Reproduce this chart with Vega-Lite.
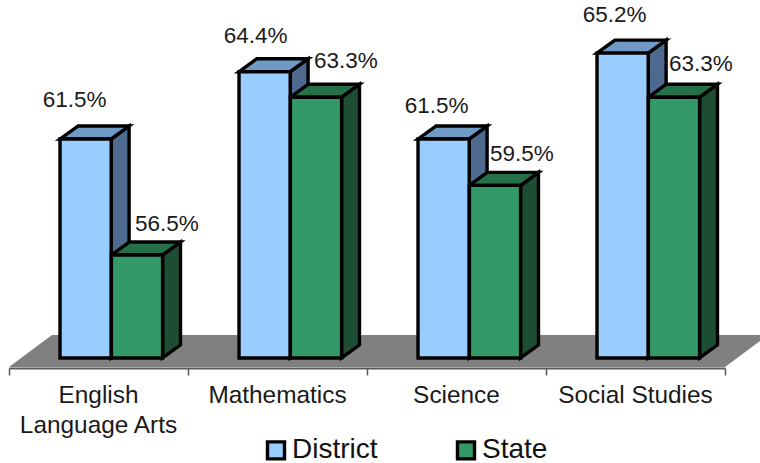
{
"$schema":"https://vega.github.io/schema/vega-lite/v6.json",
"width":760,"height":463,"autosize":{"type":"none"},"padding":0,
"background":"white",
"config":{"view":{"stroke":null},"text":{"font":"Liberation Sans"},"legend":{"labelFont":"Liberation Sans"}},
"data":{"values":[
{"subject":"English\nLanguage Arts","series":"District","value":61.5},
{"subject":"English\nLanguage Arts","series":"State","value":56.5},
{"subject":"Mathematics","series":"District","value":64.4},
{"subject":"Mathematics","series":"State","value":63.3},
{"subject":"Science","series":"District","value":61.5},
{"subject":"Science","series":"State","value":59.5},
{"subject":"Social Studies","series":"District","value":65.2},
{"subject":"Social Studies","series":"State","value":63.3}
]},
"transform":[
{"calculate":"indexof(['English\\nLanguage Arts','Mathematics','Science','Social Studies'],datum.subject)","as":"pos"},
{"calculate":"datum.pos+(datum.series==='District'?0.285:0.572)","as":"xl"},
{"calculate":"datum.xl+0.286","as":"xr"},
{"calculate":"datum.subject+datum.series","as":"key"},
{"calculate":"[0,1]","as":"d"},
{"flatten":["d"]},
{"calculate":"datum.xr+datum.d*0.1","as":"sx"},
{"calculate":"datum.value+datum.d*0.56","as":"tz"},
{"calculate":"52.06+datum.d*0.56","as":"bz"},
{"calculate":"datum.xl+datum.d*0.1","as":"tl"}
],
"layer":[
{"data":{"values":[{"d":0},{"d":1}]},
 "transform":[{"calculate":"datum.d*0.24","as":"a"},{"calculate":"4+datum.d*0.24","as":"b"},{"calculate":"51.672+datum.d*1.379","as":"c"}],
 "mark":{"type":"area","orient":"horizontal","fill":"#808080"},
 "encoding":{
  "x":{"field":"a","type":"quantitative","scale":{"domain":[0,4],"range":[9,725],"clamp":false,"nice":false,"zero":false},
   "axis":{"title":null,"labels":false,"grid":false,"values":[0,1,2,3,4],"offset":-95,"domainColor":"#5a5a5a","domainWidth":2,"tickColor":"#5a5a5a","tickSize":7,"tickWidth":1.5}},
  "x2":{"field":"b"},
  "y":{"field":"c","type":"quantitative","scale":{"domain":[52.06,66],"range":[358,34.6],"nice":false,"zero":false},"axis":null}
 }},
{"mark":{"type":"area","orient":"vertical","stroke":"black","strokeWidth":3.4,"strokeJoin":"miter"},
 "encoding":{
  "x":{"field":"sx","type":"quantitative"},
  "y":{"field":"tz","type":"quantitative"},
  "y2":{"field":"bz"},
  "detail":{"field":"key"},
  "fill":{"condition":{"test":"datum.series==='District'","value":"#4F6A8F"},"value":"#1D4D33"}
 }},
{"mark":{"type":"area","orient":"horizontal","stroke":"black","strokeWidth":3.4,"strokeJoin":"miter"},
 "transform":[{"calculate":"datum.xr+datum.d*0.1","as":"tr"}],
 "encoding":{
  "x":{"field":"tl","type":"quantitative"},
  "x2":{"field":"tr"},
  "y":{"field":"tz","type":"quantitative"},
  "detail":{"field":"key"},
  "fill":{"condition":{"test":"datum.series==='District'","value":"#6F9AC6"},"value":"#267049"}
 }},
{"transform":[{"filter":"datum.d===0"},{"calculate":"52.06","as":"base"}],
 "mark":{"type":"rect","stroke":"black","strokeWidth":3.4,"strokeJoin":"miter"},
 "encoding":{
  "x":{"field":"xl","type":"quantitative"},
  "x2":{"field":"xr"},
  "y":{"field":"value","type":"quantitative"},
  "y2":{"field":"base"},
  "fill":{"field":"series","type":"nominal","scale":{"domain":["District","State"],"range":["#99CCFF","#339966"]},
   "legend":{"title":null,"orient":"none","legendX":262,"legendY":436,"direction":"horizontal","columns":2,"symbolType":"square","symbolSize":290,"symbolStrokeWidth":3.4,"symbolStrokeColor":"black","labelFontSize":28,"labelColor":"#111111","labelOffset":2,"columnPadding":72,"padding":0}}
 }},
{"transform":[{"filter":"datum.d===0"},
  {"calculate":"(datum.xl+datum.xr)/2+(datum.series==='District'?-0.05:0.156)+([[-0.011,0.011],[0,0.011],[0.011,-0.006],[0.006,-0.006]][datum.pos][datum.series==='District'?0:1])","as":"lx"},
  {"calculate":"datum.value+(datum.series==='District'?1.55:1.47)+([[0.13,-0.13],[0,0.09],[-0.13,-0.13],[0.09,-0.04]][datum.pos][datum.series==='District'?0:1])","as":"ly"},
  {"calculate":"format(datum.value,'.1f')+'%'","as":"lab"}],
 "mark":{"type":"text","fontSize":22.5,"align":"center","baseline":"middle","color":"#1a1a1a"},
 "encoding":{
  "x":{"field":"lx","type":"quantitative"},
  "y":{"field":"ly","type":"quantitative"},
  "text":{"field":"lab"}
 }},
{"transform":[{"filter":"datum.d===0 && datum.series==='District'"},
  {"calculate":"datum.pos+0.5","as":"cx"},{"calculate":"50.96","as":"cy"}],
 "mark":{"type":"text","fontSize":24.4,"align":"center","baseline":"top","lineBreak":"\n","lineHeight":30,"color":"#1a1a1a"},
 "encoding":{
  "x":{"field":"cx","type":"quantitative"},
  "y":{"field":"cy","type":"quantitative"},
  "text":{"field":"subject"}
 }}
]
}
